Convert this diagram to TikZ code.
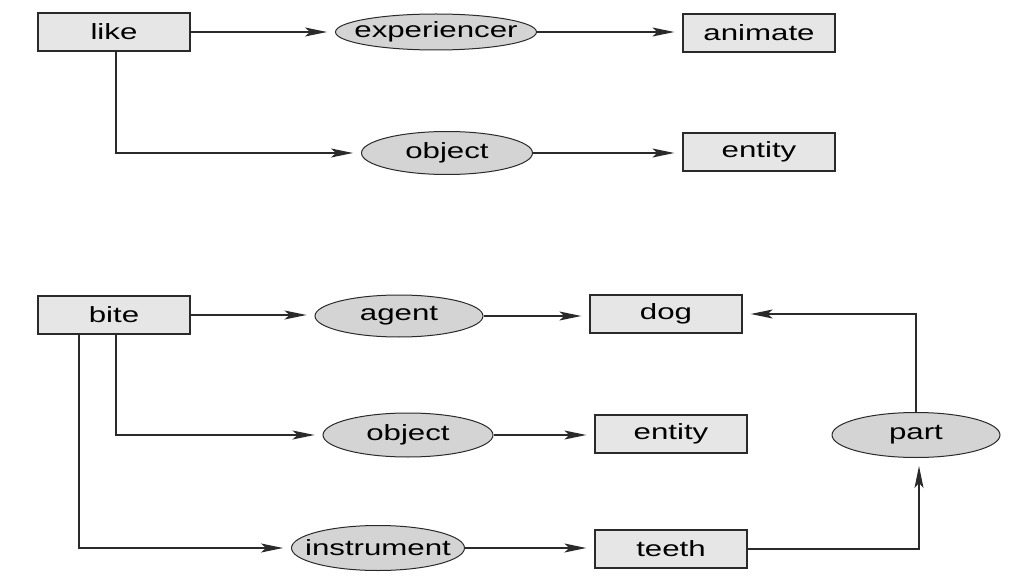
\documentclass[tikz,border=0pt]{standalone}
\usepackage{fontspec}
\setmainfont[FakeStretch=1.42]{Liberation Sans}
\usetikzlibrary{arrows.meta,shapes.geometric}
\definecolor{boxfill}{HTML}{E6E6E6}
\definecolor{ellfill}{HTML}{D4D4D4}
\definecolor{edge}{HTML}{2A2A2A}
\newcommand{\reltext}[1]{\makebox[0pt]{#1}}
\tikzset{
  concept/.style={draw=edge, line width=1.3pt, fill=boxfill, minimum width=152pt, minimum height=38pt, inner sep=0pt, font=\fontsize{22}{24}\selectfont},
  relation/.style={ellipse, draw=edge, line width=1pt, fill=ellfill, inner sep=0pt, font=\fontsize{22}{24}\selectfont},
  arr/.style={draw=edge, line width=1.3pt, -{Stealth[length=22pt,width=9pt,inset=5pt]}, shorten >=8pt},
  ln/.style={draw=edge, line width=1.3pt}
}
\begin{document}
\begin{tikzpicture}[x=1pt,y=-1pt]
\useasboundingbox (0,0) rectangle (1020,580);
% top graph
\node[concept] (like) at (114,32) {like};
\node[relation, minimum width=201pt, minimum height=36pt] (exp) at (436,32) {\reltext{experiencer}};
\node[concept] (animate) at (759,33) {animate};
\node[relation, minimum width=171pt, minimum height=43pt] (obj1) at (447,153) {\reltext{object}};
\node[concept] (entity1) at (759,152) {entity};
% bottom graph
\node[concept] (bite) at (114,315) {bite};
\node[relation, minimum width=168pt, minimum height=42pt] (agent) at (399,316) {\reltext{agent}};
\node[concept] (dog) at (666,314) {dog};
\node[relation, minimum width=170pt, minimum height=44pt] (obj2) at (408,435) {\reltext{object}};
\node[concept] (entity2) at (671,434) {entity};
\node[relation, minimum width=168pt, minimum height=45pt] (part) at (916,435) {\reltext{part}};
\node[relation, minimum width=173pt, minimum height=45pt] (instr) at (378,548) {\reltext{instrument}};
\node[concept] (teeth) at (671,549) {teeth};
% connectors top
\draw[arr] (like.east) -- (like.east -| exp.west);
\draw[arr] (exp.east) -- (exp.east -| animate.west);
\draw[arr] ([xshift=2pt]like.south) |- (obj1.west);
\draw[arr] (obj1.east) -- (obj1.east -| entity1.west);
% connectors bottom
\draw[arr] (bite.east) -- (bite.east -| agent.west);
\draw[arr] (agent.east) -- (agent.east -| dog.west);
\draw[arr] ([xshift=2pt]bite.south) |- (obj2.west);
\draw[arr] ([xshift=-35pt]bite.south) |- (instr.west);
\draw[arr] (obj2.east) -- (obj2.east -| entity2.west);
\draw[arr] (instr.east) -- (instr.east -| teeth.west);
\draw[arr] (teeth.east) -| ([xshift=3pt]part.south);
\draw[arr] (part.north) |- (dog.east);
\end{tikzpicture}
\end{document}
